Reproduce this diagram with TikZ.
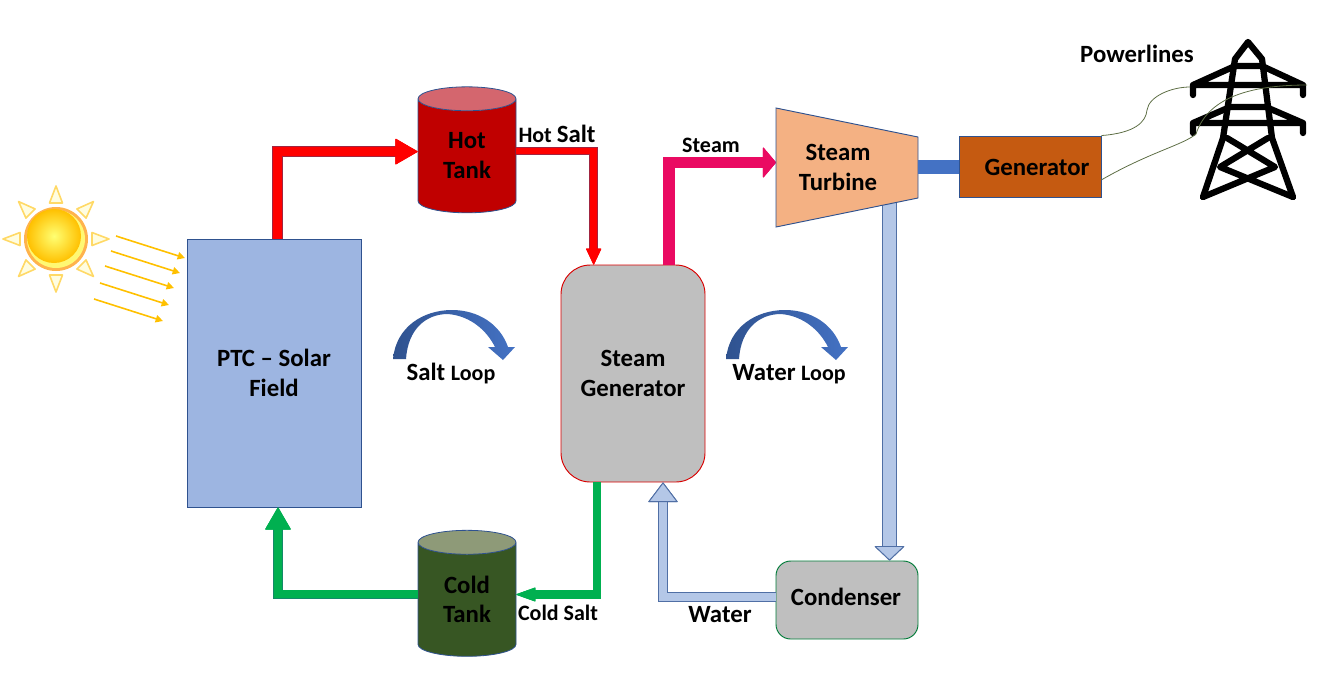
\documentclass[tikz,border=0pt]{standalone}
\usepackage{fontspec}
\setmainfont{Carlito}
\usetikzlibrary{arrows.meta,shapes.geometric}
\definecolor{fieldblue}{HTML}{9DB5E1}
\definecolor{darkblue}{HTML}{2F528F}
\definecolor{waterblue}{HTML}{B4C7E7}
\definecolor{hotred}{HTML}{C00000}
\definecolor{hottop}{HTML}{D4666E}
\definecolor{coldbody}{HTML}{375623}
\definecolor{coldtop}{HTML}{8E9A78}
\definecolor{boxgrey}{HTML}{BFBFBF}
\definecolor{steampink}{HTML}{EA0A62}
\definecolor{pipegreen}{HTML}{00B050}
\definecolor{turbinefill}{HTML}{F4B183}
\definecolor{genfill}{HTML}{C55A11}
\definecolor{shaftblue}{HTML}{4472C4}
\definecolor{rayyellow}{HTML}{FFC000}
\definecolor{wireline}{HTML}{5E6E45}
\tikzset{
    big/.style={font=\fontsize{18.6}{22.5}\selectfont\bfseries, align=center, inner sep=0pt},
    small/.style={font=\fontsize{16.5}{18}\selectfont\bfseries, align=center, inner sep=0pt},
    tank/.style={shape=cylinder, shape border rotate=90, shape aspect=.5, draw=darkblue, line width=.6pt, minimum width=73.5pt, minimum height=94.5pt, inner sep=0pt, cylinder uses custom fill},
    pipe/.style n args={6}{line width=#1pt, color=#4, preaction={draw=#5, line width=#1pt+1.3pt}, -{Triangle[width=#2pt, length=#3pt, fill=#4, color=#6, line width=.7pt, round=false]}},
    pics/looparrow/.style={code={
        \shade[left color=darkblue, right color=shaftblue, shading angle=90] (0, 0) .. controls (3, -32) and (30, -49) .. (59, -49) .. controls (85, -49) and (107, -35) .. (115, -12) -- (122, -12) -- (110, 1) -- (95, -12) -- (102, -12) .. controls (94, -28) and (78, -43) .. (55, -45) .. controls (33, -45) and (15, -30) .. (13, 0) -- cycle;
    }}
}
\begin{document}
\begin{tikzpicture}[x=.75pt, y=-.75pt]
    \useasboundingbox (0, 0) rectangle (1323, 683);

    \node [draw=darkblue, fill=fieldblue, line width=.7pt, minimum width=130.5pt, minimum height=201pt, big] (field) at (274, 373) {PTC -- Solar\\Field};
    \node [tank, cylinder end fill=hottop, cylinder body fill=hotred, big] (hot) at (467, 156) {Hot\\Tank};
    \node [tank, cylinder end fill=coldtop, cylinder body fill=coldbody, big] (cold) at (467, 599.5) {Cold\\[-.8pt]Tank};
    \node [draw=red!85!black, fill=boxgrey, rounded corners=22pt, line width=.7pt, minimum width=108pt, minimum height=162.75pt, big] (sgen) at (633, 373.5) {Steam\\Generator};
    \node [draw=pipegreen!70!black, fill=boxgrey, rounded corners=11pt, line width=.7pt, minimum width=106.5pt, minimum height=58.5pt, big] (cond) at (847, 600) {};
    \node [draw=darkblue, fill=genfill, line width=.7pt, minimum width=106.5pt, minimum height=45.75pt] (gen) at (1030, 166.5) {};

    \draw [pipe={6.75}{19.5}{17}{red}{darkblue!45!red}{red}] ([xshift=2.6pt]field.north) |- ([yshift=3.3pt]hot.west);
    \draw [pipe={5}{11.5}{12.5}{red}{darkblue!45!red}{red}] ([yshift=3.75pt]hot.east) -| ([xshift=-29.5pt]sgen.north);
    \draw [pipe={7}{23.5}{10}{steampink}{steampink}{steampink}] ([xshift=27pt]sgen.north) |- (776, 162.5) coordinate (steamin);
    \draw [pipe={5.5}{19.5}{17}{pipegreen}{darkblue!40!pipegreen}{pipegreen}] ([yshift=4.1pt]cold.west) -| ([xshift=3pt]field.south);
    \draw [pipe={5}{10.5}{15}{pipegreen}{pipegreen}{pipegreen}] ([xshift=-27pt]sgen.south) |- ([yshift=3.75pt]cold.east);
    \draw [pipe={10}{23}{11}{waterblue}{darkblue!75!waterblue}{darkblue!75!waterblue}] (889.5, 200) coordinate (turbout) -- (turbout |- cond.north);
    \draw [pipe={5.5}{22.5}{15}{waterblue}{darkblue!75!waterblue}{darkblue!75!waterblue}] ([yshift=2.25pt]cond.west) -| ([xshift=22.5pt]sgen.south);

    \draw [fill=turbinefill, draw=darkblue, line width=.7pt] (776, 108) coordinate (tnw) -- (918, 137) -- (918, 198) coordinate (tse) -- (776, 227) -- cycle;
    \coordinate (shaft) at (918, 167);
    \draw [shaftblue, line width=10.5pt] (shaft) -- (shaft -| gen.west);

    \node [big] (turbtext) at (838, 167) {Steam\\Turbine};
    \node [big] (gentext) at (1037, 167) {Generator};
    \node [big] (condtext) at (846, 597) {Condenser};
    \node [big] (lines) at (1137, 54) {Powerlines};
    \node [small] (steamtext) at (711, 145) {Steam};
    \node [big] (watertext) at (720, 615) {Water};
    \node (hotsalt) [small] at (557, 134) {Hot {\fontsize{18.6}{20}\selectfont Salt}};
    \node (coldsalt) [small] at (558, 613) {Cold Salt};
    \node (saltloop) [big] at (451, 374) {Salt {\fontsize{16.5}{20}\selectfont Loop}};
    \node (waterloop) [big] at (789, 374) {Water {\fontsize{16.5}{20}\selectfont Loop}};

    \pic at (393, 359) {looparrow};
    \pic at (726, 359) {looparrow};

    % sun
    \foreach \ang in {0, 45, ..., 315}
        \draw [rotate around={\ang:(56, 239)}, draw=orange!50!yellow!60!white, fill=yellow!12!white, line width=1.2pt, line join=round] (56, 186) -- (49.5, 203) -- (62.5, 203) -- cycle;
    \fill [orange!85!yellow!70!white] (56, 239) circle (32);
    \fill [yellow!55!white] (56, 239) circle (29);
    \shade [inner color=yellow!55!white, outer color=rayyellow] (54, 236) circle (27);
    \foreach \xa/\ya in {116/236, 111/251, 105/266, 100/283, 94/299}
        \draw [rayyellow, line width=1.2pt, -{Triangle[width=5.5pt, length=5.5pt]}] (\xa, \ya) -- ++(69, 22);

    % tower
    \draw [line width=4.7pt, line join=round, line cap=round] (1203, 197) -- (1223, 138) -- (1235, 59) -- (1248, 42) -- (1262, 59) -- (1272, 138) -- (1293, 197);
    \draw [line width=4.7pt, line cap=round, line join=round] (1193, 95) -- (1193, 85) -- (1303, 85) -- (1303, 95) (1193, 85) -- (1235, 66) -- (1262, 66) -- (1303, 85);
    \draw [line width=4.7pt, line cap=round, line join=round] (1193, 133) -- (1193, 123) -- (1303, 123) -- (1303, 133) (1193, 123) -- (1230, 107) -- (1266, 107) -- (1303, 123);
    \draw [line width=4.7pt, line cap=round, line join=round] (1227, 138) -- (1275, 167) -- (1203, 197) (1293, 197) -- (1220, 167) -- (1268, 138);

    \draw [wireline, line width=.6pt] (gen.north east) .. controls (1135, 133) and (1146, 122) .. (1147, 110) .. controls (1149, 96) and (1172, 87) .. (1190, 87);
    \draw [wireline, line width=.6pt] ([yshift=-10pt]gen.east) .. controls (1150, 152) and (1183, 145) .. (1196, 134) .. controls (1207, 100) and (1245, 85) .. (1307, 85);
\end{tikzpicture}
\end{document}
